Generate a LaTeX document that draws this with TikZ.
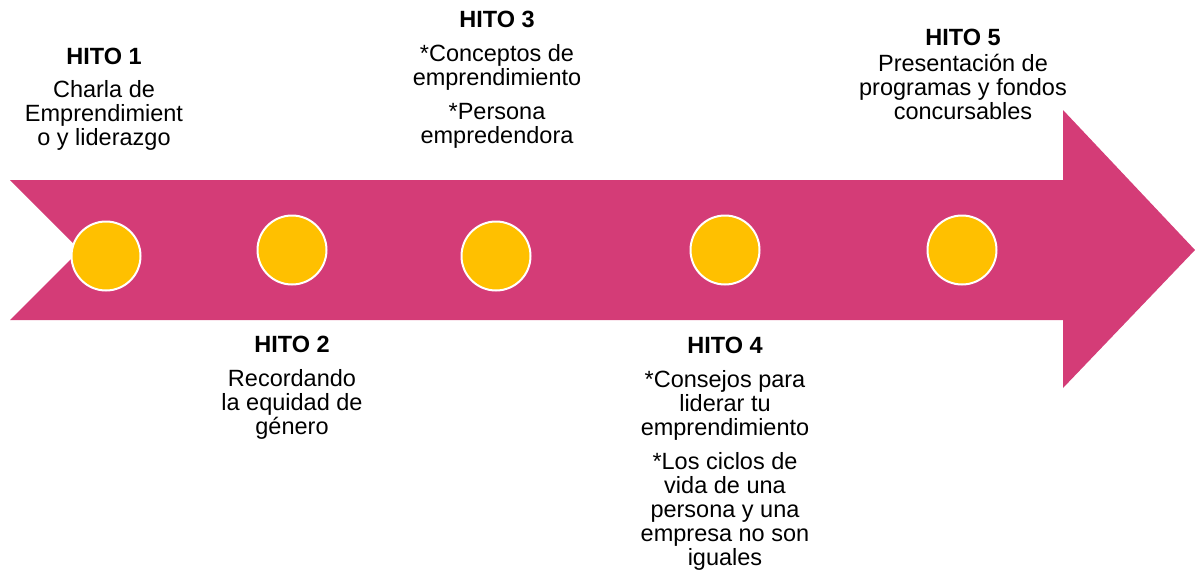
\documentclass[tikz,border=0pt]{standalone}
\usepackage{fontspec}
\setmainfont{Liberation Sans}
\definecolor{arrowpink}{RGB}{212,60,119}
\definecolor{dotyellow}{RGB}{255,192,0}
\begin{document}
\begin{tikzpicture}[x=1pt,y=-1pt,
  dot/.style={circle,fill=dotyellow,draw=white,line width=2pt,minimum size=69pt,inner sep=0pt},
  label/.style={anchor=north,align=center,inner sep=0pt,font=\fontsize{23.5}{24}\selectfont}]
\useasboundingbox (0,0) rectangle (1195,573);
\fill[arrowpink] (10,180) -- (1063,180) -- (1063,110) -- (1195,250) -- (1063,388) -- (1063,320) -- (10,320) -- (80,250) -- cycle;
\node[dot] (c1) at (106,256) {};
\node[dot] (c2) at (292,250) {};
\node[dot] (c3) at (496,256) {};
\node[dot] (c4) at (725,250) {};
\node[dot] (c5) at (962,250) {};
\node[label] (h1) at (104,48) {\textbf{HITO 1}\\[9pt]Charla de\\Emprendimient\\o y liderazgo};
\node[label] (h2) at (292,336) {\textbf{HITO 2}\\[10pt]Recordando\\la equidad de\\género};
\node[label] (h3) at (497,11) {\textbf{HITO 3}\\[10pt]*Conceptos de\\emprendimiento\\[10pt]*Persona\\empredendora};
\node[label] (h4) at (725,337) {\textbf{HITO 4}\\[10pt]*Consejos para\\liderar tu\\emprendimiento\\[10pt]*Los ciclos de\\vida de una\\persona y una\\empresa no son\\iguales};
\node[label] (h5) at (963,29) {\textbf{HITO 5}\\[2pt]Presentación de\\programas y fondos\\concursables};
\end{tikzpicture}
\end{document}
